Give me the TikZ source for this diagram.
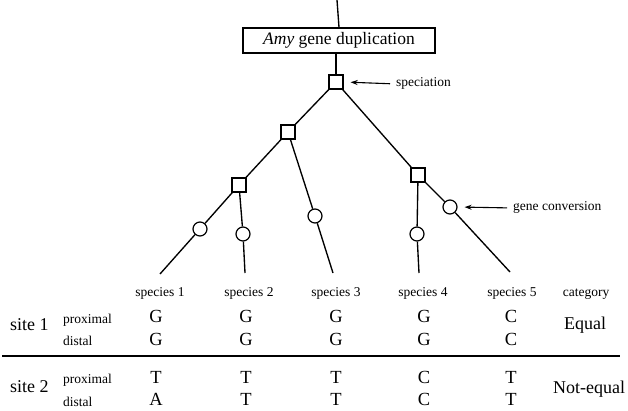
\documentclass[tikz,border=0pt]{standalone}
\usepackage{fontspec}
\setmainfont{Liberation Serif}
\usetikzlibrary{arrows.meta}
\begin{document}
\begin{tikzpicture}[x=1pt,y=-1pt,
  ln/.style={line width=1.35pt},
  spbox/.style={draw,line width=1.2pt,minimum size=14pt,inner sep=0pt,fill=white},
  gcirc/.style={draw,circle,line width=1.2pt,minimum size=14pt,inner sep=0pt,fill=white},
  small/.style={font=\fontsize{13.5}{15}\selectfont,inner sep=0pt},
  big/.style={font=\fontsize{18}{20}\selectfont,inner sep=0pt},
  nuc/.style={font=\fontsize{18.5}{20}\selectfont,inner sep=0pt,anchor=base},
  arr/.style={line width=1.1pt,-{Stealth[length=7pt,width=5pt]}}]
\useasboundingbox (0,0) rectangle (628,411);
% tree
\coordinate (top) at (337,0);
\node[draw,line width=1.2pt,minimum width=192pt,minimum height=25pt,inner sep=0pt,
  font=\fontsize{17.5}{20}\selectfont] (dup) at (339,40.5) {\textit{Amy} gene duplication};
\node[spbox] (s1) at (336,82) {};
\node[spbox] (s2) at (288,132) {};
\node[spbox] (s3) at (239,185) {};
\node[spbox] (s4) at (418,175) {};
\node[gcirc] (c1) at (200,229) {};
\node[gcirc] (c2) at (243,234) {};
\node[gcirc] (c3) at (315,216) {};
\node[gcirc] (c4) at (417,234) {};
\node[gcirc] (c5) at (450,207) {};
\coordinate (l1) at (160,274);
\coordinate (l2) at (245,273);
\coordinate (l3) at (333,273);
\coordinate (l4) at (419,273);
\coordinate (l5) at (510,272);
\draw[ln] (top) -- (dup.north);
\draw[ln] (dup.south -| s1) -- (s1);
\draw[ln] (s1) -- (s2);
\draw[ln] (s1) -- (s4);
\draw[ln] (s2) -- (s3);
\draw[ln] (s2) -- (c3) -- (l3);
\draw[ln] (s3) -- (c1) -- (l1);
\draw[ln] (s3) -- (c2) -- (l2);
\draw[ln] (s4) -- (c4) -- (l4);
\draw[ln] (s4) -- (c5) -- (l5);
% annotations
\node[small,anchor=base west] (spec) at (396,87) {speciation};
\draw[arr,shorten <=6pt,shorten >=7pt] (spec.west) -- (s1.east);
\node[small,anchor=base west] (gc) at (513,211) {gene conversion};
\draw[arr,shorten <=6pt,shorten >=7pt] (gc.west) -- (c5.east);
% table header
\node[small,anchor=base] (h1) at (160,296) {species 1};
\node[small,anchor=base] (h2) at (249,296) {species 2};
\node[small,anchor=base] (h3) at (336,296) {species 3};
\node[small,anchor=base] (h4) at (423,296) {species 4};
\node[small,anchor=base] (h5) at (512,296) {species 5};
\node[small,anchor=base] (hc) at (586,296) {category};
% site 1
\node[big,anchor=base west] (site1) at (10,330) {site 1};
\node[small,anchor=base west] (p1) at (63,323) {proximal};
\node[small,anchor=base west] (d1) at (63,345) {distal};
\node[nuc] (a11) at (156,322) {G};
\node[nuc] (a12) at (246,322) {G};
\node[nuc] (a13) at (336,322) {G};
\node[nuc] (a14) at (424,322) {G};
\node[nuc] (a15) at (511,322) {C};
\node[nuc] (b11) at (156,345) {G};
\node[nuc] (b12) at (246,345) {G};
\node[nuc] (b13) at (336,345) {G};
\node[nuc] (b14) at (424,345) {G};
\node[nuc] (b15) at (511,345) {C};
\node[big,anchor=base] (eq) at (585,329) {Equal};
% separator
\coordinate (sepL) at (2,356);
\coordinate (sepR) at (620,356);
\draw[line width=1.3pt] (sepL) -- (sepR);
% site 2
\node[big,anchor=base west] (site2) at (10,392) {site 2};
\node[small,anchor=base west] (p2) at (63,383) {proximal};
\node[small,anchor=base west] (d2) at (63,406) {distal};
\node[nuc] (a21) at (156,383) {T};
\node[nuc] (a22) at (246,383) {T};
\node[nuc] (a23) at (336,383) {T};
\node[nuc] (a24) at (424,383) {C};
\node[nuc] (a25) at (511,383) {T};
\node[nuc] (b21) at (156,405) {A};
\node[nuc] (b22) at (246,405) {T};
\node[nuc] (b23) at (336,405) {T};
\node[nuc] (b24) at (424,405) {C};
\node[nuc] (b25) at (511,405) {T};
\node[big,anchor=base] (neq) at (589,393) {Not-equal};
\end{tikzpicture}
\end{document}
